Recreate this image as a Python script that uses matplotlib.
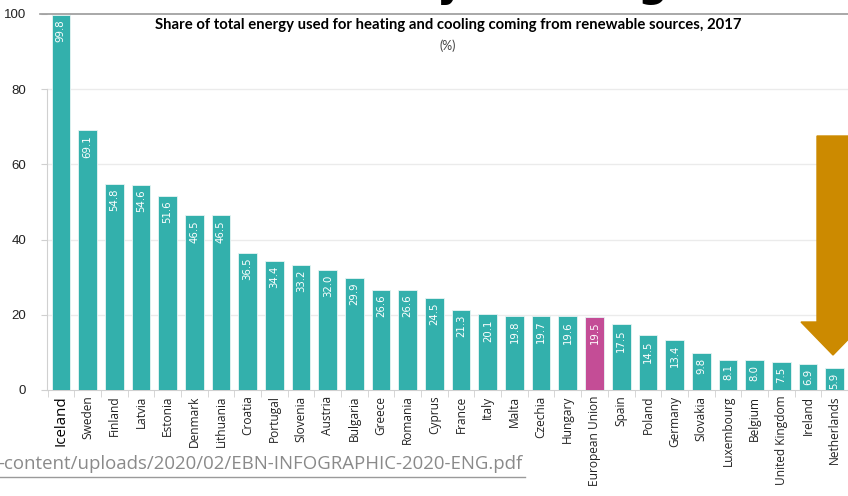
import matplotlib
matplotlib.use("Agg")
import matplotlib.pyplot as plt
from matplotlib.patches import Polygon
from matplotlib.lines import Line2D
import numpy as np

countries = ["Iceland", "Sweden", "Finland", "Latvia", "Estonia", "Denmark", "Lithuania",
             "Croatia", "Portugal", "Slovenia", "Austria", "Bulgaria", "Greece", "Romania",
             "Cyprus", "France", "Italy", "Malta", "Czechia", "Hungary", "European Union",
             "Spain", "Poland", "Germany", "Slovakia", "Luxembourg", "Belgium",
             "United Kingdom", "Ireland", "Netherlands"]
shares = [99.8, 69.1, 54.8, 54.6, 51.6, 46.5, 46.5, 36.5, 34.4, 33.2, 32.0, 29.9, 26.6,
          26.6, 24.5, 21.3, 20.1, 19.8, 19.7, 19.6, 19.5, 17.5, 14.5, 13.4, 9.8, 8.1,
          8.0, 7.5, 6.9, 5.9]
yticks = [0, 20, 40, 60, 80, 100]

teal = "#33b0ac"
pink = "#c44d96"

W, H = 848, 496
fig = plt.figure(figsize=(W / 100, H / 100), dpi=100)

# axes placed in pixel terms
ax = fig.add_axes([47 / W, (H - 390) / H, 1 - 47 / W, (390 - 14) / H])
x = np.arange(len(countries))
colors = [pink if c == "European Union" else teal for c in countries]
bars = ax.bar(x, shares, width=0.7, color=colors, edgecolor="#e8f4f4", linewidth=0.6, zorder=3)

ax.set_xlim(-0.52, 29.47)
ax.set_ylim(0, 100)

for xi, v in zip(x, shares):
    ax.text(xi, v - 1.3, f"{v:.1f}", rotation=90, ha="center", va="top",
            color="white", fontsize=7.3, family="DejaVu Sans", zorder=4)

# grid
for g in [20, 40, 60, 80]:
    ax.axhline(g, color="#ebebeb", lw=1, zorder=1)
ax.plot([-0.8, 29.5], [100, 100], color="#9a9a9a", lw=1.2, clip_on=False, zorder=2)

for s in ["top", "right"]:
    ax.spines[s].set_visible(False)
ax.spines["left"].set_color("#d0d0d0")
ax.spines["left"].set_bounds(0, 80)
ax.spines["bottom"].set_color("#d0d0d0")

ax.set_yticks(yticks)
ax.set_yticklabels([str(t) for t in yticks], fontsize=9.5, family="Liberation Sans", color="#222222")
ax.tick_params(axis="y", length=4, color="#d0d0d0", pad=11)

ax.set_xticks(x)
ax.set_xticklabels(countries, rotation=90, fontsize=8.6, family="Open Sans", color="#222222")
ax.tick_params(axis="x", length=0, pad=4)
ax.get_xticklabels()[0].set_fontsize(10.8)
ax.get_xticklabels()[0].set_color("black")
ax.set_xticks(np.arange(-0.5, 30, 1), minor=True)
ax.tick_params(axis="x", which="minor", length=5, color="#d0d0d0")

fig.text(448 / W, 1 - 25 / H, "Share of total energy used for heating and cooling coming from renewable sources, 2017",
         ha="center", va="center", fontsize=10.7, fontweight="bold", family="Lato")
fig.text(448 / W, 1 - 46 / H, "(%)", ha="center", va="center", fontsize=9, color="#444444",
         family="Lato")

# cut-off heading glyphs at the top
fig.text(450 / W, 1 + 4 / H, "y", ha="center", va="baseline", fontsize=30, fontweight="bold", color="black")
fig.text(652 / W, 1 + 4 / H, "g", ha="center", va="baseline", fontsize=30, fontweight="bold", color="black")

# orange arrow
arrow = Polygon([(817, 136), (849, 136), (849, 322), (865, 322), (833, 355), (801, 322), (817, 322)],
                closed=True, transform=None, color="#cc8a00", zorder=5)
arrow.set_xy([(px, H - py) for px, py in arrow.get_xy()])
fig.patches.append(arrow)

# source link
fig.text(-2 / W, 1 - 464 / H, "-content/uploads/2020/02/EBN-INFOGRAPHIC-2020-ENG.pdf", ha="left", va="center",
         fontsize=13.4, color="#8a8a8a", family="Open Sans")
fig.add_artist(Line2D([0, 525 / W], [1 - 477 / H, 1 - 477 / H], color="#9a9a9a", lw=1))

fig.savefig("out.png", dpi=100)
